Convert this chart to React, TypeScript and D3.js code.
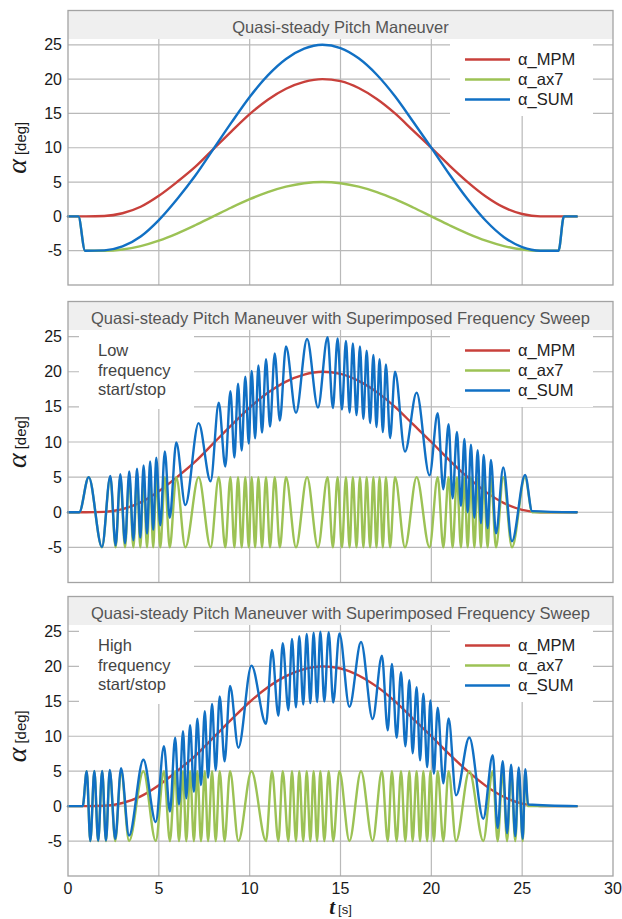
import React from 'react';
import * as d3 from 'd3';

// ---------- data ----------
const xTicks = [0, 5, 10, 15, 20, 25, 30];
const yTicks = [-5, 0, 5, 10, 15, 20, 25];
const seriesNames = ['α_MPM', 'α_ax7', 'α_SUM'];
const seriesColors = ['#c8403b', '#9cc255', '#1170c4'];
const panelTitles = [
  'Quasi-steady Pitch Maneuver',
  'Quasi-steady Pitch Maneuver with Superimposed Frequency Sweep',
  'Quasi-steady Pitch Maneuver with Superimposed Frequency Sweep',
];
const panelNotes: (string[] | null)[] = [
  null,
  ['Low', 'frequency', 'start/stop'],
  ['High', 'frequency', 'start/stop'],
];

// alpha_MPM (same in every panel)
const mpmT = [0, 1, 2, 3, 4, 5, 6, 7, 8, 9, 10, 11, 12, 13, 14, 15, 16, 17, 18, 19, 20, 21, 22, 23, 24, 25, 26, 28];
const mpmV = [0, 0, 0.05, 0.45, 1.4, 3.0, 5.0, 7.2, 9.8, 12.4, 14.9, 17.0, 18.6, 19.6, 20, 19.7, 18.7, 17.1, 15.0, 12.5, 10.0, 7.4, 5.0, 2.9, 1.3, 0.35, 0, 0];

// alpha_ax7, quasi-steady panel
const qsAx7T = [0, 0.57, 0.94, 2, 3, 4, 5, 6, 7, 8, 9, 10, 11, 12, 13, 14, 15, 16, 17, 18, 19, 20, 21, 22, 23, 24, 25, 26, 27.0, 27.3, 28];
const qsAx7V = [0, 0, -5, -5, -4.83, -4.33, -3.54, -2.5, -1.29, 0, 1.29, 2.5, 3.54, 4.33, 4.83, 5, 4.83, 4.33, 3.54, 2.5, 1.29, 0, -1.29, -2.5, -3.54, -4.33, -4.83, -5, -5, 0, 0];

// alpha_ax7, low frequency start/stop sweep (extrema)
const lfAx7T = [0, 0.62, 1.14, 1.87, 2.33, 2.62, 2.88, 3.14, 3.37, 3.60, 3.80, 3.98, 4.16, 4.35, 4.52, 4.69, 4.86, 5.08, 5.33, 5.60, 5.96, 6.46, 7.19, 7.85, 8.30, 8.66, 8.94, 9.16, 9.36, 9.56, 9.76, 9.95, 10.11, 10.30, 10.48, 10.68, 10.90, 11.12, 11.38, 11.66, 12.00, 12.55, 13.16, 13.76, 14.29, 14.58, 14.84, 15.08, 15.30, 15.50, 15.68, 15.88, 16.07, 16.26, 16.44, 16.63, 16.81, 16.98, 17.15, 17.33, 17.50, 17.73, 18.00, 18.55, 19.19, 19.90, 20.35, 20.66, 20.95, 21.17, 21.41, 21.63, 21.82, 22.00, 22.18, 22.37, 22.55, 22.73, 22.88, 23.10, 23.28, 23.56, 23.96, 24.44, 25.16, 25.55, 28];
const lfAx7V = [0, 0, 5, -5, 5, -5, 5, -5, 5, -5, 5, -5, 5, -5, 5, -5, 5, -5, 5, -5, 5, -5, 5, -5, 5, -5, 5, -5, 5, -5, 5, -5, 5, -5, 5, -5, 5, -5, 5, -5, 5, -5, 5, -5, 5, -5, 5, -5, 5, -5, 5, -5, 5, -5, 5, -5, 5, -5, 5, -5, 5, -5, 5, -5, 5, -5, 5, -5, 5, -5, 5, -5, 5, -5, 5, -5, 5, -5, 5, -5, 5, -5, 5, -5, 5, 0, 0];

// alpha_ax7, high frequency start/stop sweep (extrema)
const hfAx7T = [0, 0.81, 1.03, 1.23, 1.45, 1.66, 1.88, 2.09, 2.30, 2.60, 2.92, 3.36, 4.15, 4.83, 5.28, 5.61, 5.90, 6.11, 6.33, 6.51, 6.72, 6.93, 7.12, 7.32, 7.53, 7.71, 7.93, 8.13, 8.35, 8.62, 8.92, 9.38, 10.10, 10.90, 11.23, 11.58, 11.82, 12.13, 12.33, 12.55, 12.73, 12.95, 13.14, 13.34, 13.52, 13.71, 13.89, 14.11, 14.35, 14.60, 14.94, 15.49, 16.13, 16.77, 17.28, 17.60, 17.83, 18.09, 18.33, 18.57, 18.79, 18.97, 19.19, 19.38, 19.56, 19.77, 19.95, 20.14, 20.35, 20.66, 20.95, 21.36, 22.09, 22.86, 23.38, 23.65, 23.93, 24.17, 24.39, 24.62, 24.81, 25.03, 25.17, 25.32, 28];
const hfAx7V = [0, 0, 5, -5, 5, -5, 5, -5, 5, -5, 5, -5, 5, -5, 5, -5, 5, -5, 5, -5, 5, -5, 5, -5, 5, -5, 5, -5, 5, -5, 5, -5, 5, -5, 5, -5, 5, -5, 5, -5, 5, -5, 5, -5, 5, -5, 5, -5, 5, -5, 5, -5, 5, -5, 5, -5, 5, -5, 5, -5, 5, -5, 5, -5, 5, -5, 5, -5, 5, -5, 5, -5, 5, -5, 5, -5, 5, -5, 5, -5, 5, -5, 5, 0, 0];

const ax7Sets = [
  [qsAx7T, qsAx7V],
  [lfAx7T, lfAx7V],
  [hfAx7T, hfAx7V],
];

// ---------- layout ----------
const W = 622;
const H = 919;
const X0 = 68;
const X1 = 613;
const panelBoxes = [
  { top: 10.5, bottom: 285 },
  { top: 301.5, bottom: 582.5 },
  { top: 596.5, bottom: 876 },
];
const BAND = 28.5;
const SANS = '"Liberation Sans", Arial, Helvetica, sans-serif';
const SERIF = '"Liberation Serif", "Times New Roman", serif';

const mpmAt = d3.scaleLinear().domain(mpmT).range(mpmV).clamp(true);

function Panel({ idx }: { idx: number }) {
  const { top, bottom } = panelBoxes[idx];
  const x = d3.scaleLinear().domain([0, 30]).range([X0, X1]);
  const y = d3.scaleLinear().domain([-10, 30]).range([bottom, top]);
  const bandBottom = top + BAND;
  const line = d3
    .line<[number, number]>()
    .x((d) => x(d[0]))
    .y((d) => y(d[1]))
    .curve(d3.curveMonotoneX);

  const [axT, axV] = ax7Sets[idx];
  const mpmPts: [number, number][] = mpmT.map((t, i) => [t, mpmV[i]]);
  const axPts: [number, number][] = axT.map((t, i) => [t, axV[i]]);
  const sumPts: [number, number][] = axT.map((t, i) => [t, axV[i] + mpmAt(t)]);
  const paths = [line(mpmPts), line(axPts), line(sumPts)];
  const note = panelNotes[idx];
  const yMid = (top + bottom) / 2;

  return (
    <g>
      <rect x={X0} y={top} width={X1 - X0} height={bottom - top} fill="#fff" />
      {/* grid */}
      {yTicks.map((v) => (
        <line key={'h' + v} x1={X0} x2={X1} y1={y(v)} y2={y(v)} stroke="#b9b9b9" strokeWidth={1.2} />
      ))}
      {xTicks.slice(1, -1).map((v) => (
        <line key={'v' + v} x1={x(v)} x2={x(v)} y1={bandBottom} y2={bottom} stroke="#b9b9b9" strokeWidth={1.2} />
      ))}
      {/* title band */}
      <rect x={X0} y={top} width={X1 - X0} height={BAND} fill="#efefef" />
      <text x={(X0 + X1) / 2} y={top + 22} textAnchor="middle" fontFamily={SANS} fontSize={16.5} fill="#555">
        {panelTitles[idx]}
      </text>
      {/* legend box */}
      <rect x={450} y={bandBottom} width={143} height={77} fill="#fff" />
      {note && <rect x={79} y={bandBottom} width={115} height={79} fill="#fff" />}
      {/* series */}
      {paths.map((p, i) => (
        <path key={i} d={p || ''} fill="none" stroke={seriesColors[i]} strokeWidth={2.4} strokeLinejoin="round" strokeLinecap="round" />
      ))}
      {/* legend */}
      {seriesNames.map((n, i) => {
        const ly = bandBottom + 20.5 + 20 * i;
        return (
          <g key={n}>
            <line x1={465} x2={510} y1={ly} y2={ly} stroke={seriesColors[i]} strokeWidth={2.6} />
            <text x={518} y={ly} dy="0.35em" fontFamily={SANS} fontSize={16.5} fill="#222">
              {n}
            </text>
          </g>
        );
      })}
      {note &&
        note.map((s, i) => (
          <text key={s} x={98} y={bandBottom + 26 + 19.5 * i} fontFamily={SANS} fontSize={16.5} fill="#444">
            {s}
          </text>
        ))}
      {/* frame */}
      <rect x={X0} y={top} width={X1 - X0} height={bottom - top} fill="none" stroke="#a3a3a3" strokeWidth={1.3} />
      {/* y tick labels */}
      {yTicks.map((v) => (
        <text key={'yl' + v} x={62} y={y(v)} dy="0.35em" textAnchor="end" fontFamily={SANS} fontSize={16} fill="#1a1a1a">
          {String(v)}
        </text>
      ))}
      {/* y axis label */}
      <text transform={`translate(26,${yMid}) rotate(-90)`} textAnchor="middle" fill="#1a1a1a">
        <tspan fontFamily={SERIF} fontStyle="italic" fontSize={28}>
          α
        </tspan>
        <tspan fontFamily={SANS} fontSize={15} dx={4}>
          [deg]
        </tspan>
      </text>
    </g>
  );
}

export default function App() {
  const x = d3.scaleLinear().domain([0, 30]).range([X0, X1]);
  return (
    <svg
      width={W}
      height={H}
      viewBox={`0 0 ${W} ${H}`}
      style={{ position: 'absolute', left: 0, top: 0, background: '#fff' }}
    >
      <rect x={0} y={0} width={W} height={H} fill="#fff" />
      {panelBoxes.map((_, i) => (
        <Panel key={i} idx={i} />
      ))}
      {xTicks.map((v) => (
        <text key={'xl' + v} x={x(v)} y={893.5} textAnchor="middle" fontFamily={SANS} fontSize={16} fill="#1a1a1a">
          {String(v)}
        </text>
      ))}
      <text x={x(15)} y={913.5} textAnchor="middle" fill="#1a1a1a">
        <tspan fontFamily={SERIF} fontStyle="italic" fontWeight="bold" fontSize={21}>
          t
        </tspan>
        <tspan fontFamily={SANS} fontSize={13} dx={3}>
          [s]
        </tspan>
      </text>
    </svg>
  );
}
